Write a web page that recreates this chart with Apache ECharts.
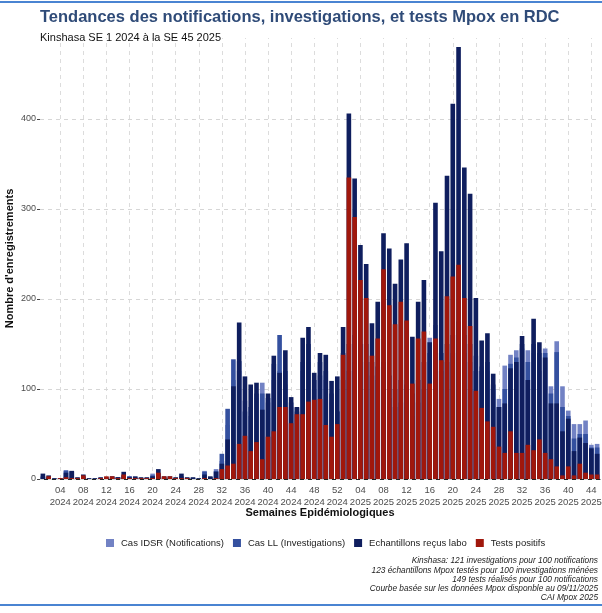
<!DOCTYPE html>
<html>
<head>
<meta charset="utf-8">
<script src="https://cdn.jsdelivr.net/npm/echarts@6/dist/echarts.min.js"></script>
<style>
html,body{margin:0;padding:0;background:#fff;}
#c{width:602px;height:613px;}
</style>
</head>
<body>
<div id="c"></div>
<script>
// Weeks: 2024 W01..W52, 2025 W01..W45
const years = [2024, 2025];
const weeksPerYear = [52, 45];
const categories = [];
years.forEach((y, k) => {
  for (let w = 1; w <= weeksPerYear[k]; w++) categories.push((w < 10 ? '0' + w : '' + w) + '\n' + y);
});

const casIDSR = [
  2,1,0,1,10,9,1,2,0,0,1,1,1,2,3,3,1,1,1,6,5,1,1,1,2,1,1,0,9,2,11,
  20,60,110,120,87,70,90,107,85,110,120,105,80,79,120,130,100,115,110,85,75,
  110,120,130,125,130,115,110,100,90,80,85,80,70,85,100,157,171,120,130,140,150,140,130,
  137,125,120,100,89,126,138,143,145,143,140,120,145,103,153,103,76,61,61,65,38,39
];
const casLL = [
  3,2,0,1,9,8,1,3,0,0,1,1,2,2,4,3,2,1,1,4,6,2,1,1,3,1,1,0,8,2,9,
  28,78,133,131,75,80,95,95,90,128,160,120,85,75,130,150,110,130,120,95,75,
  140,150,160,150,150,130,125,130,115,100,110,105,95,110,130,140,150,140,150,160,175,160,150,
  120,120,130,105,80,100,128,135,150,130,150,140,140,95,141,80,70,45,50,50,35,35
];
const echantillons = [
  6,4,1,1,7,9,2,5,1,1,2,2,3,2,8,2,3,2,2,3,11,3,3,2,6,2,2,1,5,3,8,
  17,44,103,174,114,105,107,77,95,137,118,143,91,80,157,169,118,140,138,109,114,
  169,406,334,260,239,173,197,273,256,217,244,262,158,197,221,152,307,253,337,417,480,346,317,
  201,154,162,117,80,84,123,130,159,110,178,152,135,84,84,53,67,31,46,40,34,28
];
const testsPositifs = [
  0,3,0,1,2,1,1,4,0,0,1,3,3,1,5,1,1,1,1,1,7,3,3,1,1,1,0,0,1,0,1,
  11,15,17,39,48,31,41,22,47,53,80,80,62,72,72,86,88,89,60,47,61,
  138,335,291,221,201,137,156,233,193,172,197,176,106,156,164,106,156,132,203,225,238,201,170,
  98,79,64,58,36,29,53,29,29,38,32,44,29,22,14,4,14,4,17,7,5,5
];
const seriesNames = ['Cas IDSR (Notifications)', 'Cas LL (Investigations)', 'Echantillons reçus labo', 'Tests positifs'];
const seriesColors = ['#7282c4', '#34509f', '#0f1e5e', '#a0170c'];
const yTicks = [0, 100, 200, 300, 400];
const captionLines = [
  'Kinshasa: 121 investigations pour 100 notifications',
  '123 échantillons Mpox testés pour 100 investigations ménées',
  '149 tests réalisés pour 100 notifications',
  'Courbe basée sur les données Mpox disponble au 09/11/2025',
  'CAI Mpox 2025'
];

const labelIdx = (i) => {
  const w = i < 52 ? i + 1 : i - 51;
  return w % 4 === 0;
};
const gridCats = categories.filter((c, i) => labelIdx(i));

const font = 'Liberation Sans, Arial, Helvetica, sans-serif';
const chart = echarts.init(document.getElementById('c'), null, {renderer: 'canvas'});
const dataSets = [casIDSR, casLL, echantillons, testsPositifs];

const barSeries = dataSets.map((d, k) => ({
  name: seriesNames[k],
  type: 'bar',
  data: d,
  barGap: '-100%',
  barCategoryGap: '20%',
  z: 3 + k,
  itemStyle: {color: seriesColors[k]},
  emphasis: {disabled: true}
}));

chart.setOption({
  animation: false,
  backgroundColor: '#fff',
  title: {
    text: 'Tendances des notifications, investigations, et tests Mpox en RDC',
    subtext: 'Kinshasa SE 1 2024 à la SE 45 2025',
    left: 35, top: 4,
    itemGap: 6,
    textStyle: {fontFamily: font, fontSize: 16.5, fontWeight: 'bold', color: '#2f4b78'},
    subtextStyle: {fontFamily: font, fontSize: 11, color: '#111'}
  },
  legend: {
    data: seriesNames,
    top: 533, left: 101,
    icon: 'rect', itemWidth: 8, itemHeight: 8, itemGap: 9,
    textStyle: {fontFamily: font, fontSize: 9.5, color: '#222', padding: [0, 0, 0, 2]}
  },
  grid: {left: 40, right: 2, top: 38, bottom: 134, containLabel: false, outerBoundsMode: 'none'},
  xAxis: {
    type: 'category',
    data: categories,
    name: 'Semaines Epidémiologiques',
    nameLocation: 'middle', nameGap: 28, nameMoveOverlap: false,
    nameTextStyle: {fontFamily: font, fontSize: 11, fontWeight: 'bold', color: '#111'},
    axisLine: {show: true, lineStyle: {color: '#222', width: 1}},
    axisTick: {show: false},
    axisLabel: {
      interval: (i) => labelIdx(i),
      fontFamily: font, fontSize: 9.5, color: '#4d4d4d', lineHeight: 12, margin: 5
    },
    splitLine: {show: false}
  },
  yAxis: {
    type: 'value', min: 0, max: 490, interval: 100,
    name: "Nombre d'enregistrements",
    nameLocation: 'middle', nameGap: 25, nameMoveOverlap: false,
    nameTextStyle: {fontFamily: font, fontSize: 11, fontWeight: 'bold', color: '#111'},
    axisLine: {show: false},
    axisTick: {show: true, length: 3, lineStyle: {color: '#444'}, customValues: yTicks},
    axisLabel: {
      fontFamily: font, fontSize: 9, color: '#4d4d4d', margin: 4,
      customValues: yTicks,
      formatter: (v) => yTicks.indexOf(v) >= 0 ? String(v) : ''
    },
    splitLine: {show: false}
  },
  series: [
    {
      type: 'line', data: [], z: 1, silent: true,
      markLine: {
        silent: true, symbol: 'none', animation: false, z: 1,
        label: {show: false},
        lineStyle: {color: '#dcdcdc', type: [4, 4], width: 1},
        data: gridCats.map(c => ({xAxis: c})).concat(yTicks.map(v => ({yAxis: v, lineStyle: {color: '#d6d6d6'}})))
      }
    },
    ...barSeries
  ],
  graphic: [
    {type: 'rect', shape: {x: 0, y: 1, width: 602, height: 2}, style: {fill: '#4a84d2'}},
    {type: 'rect', shape: {x: 0, y: 604, width: 602, height: 2}, style: {fill: '#4a84d2'}},
    ...captionLines.map((t, i) => ({
      type: 'text', right: 4, top: 557 + i * 9.2,
      style: {text: t, font: 'italic 8.3px ' + font, fill: '#222', textAlign: 'right'}
    }))
  ]
});
</script>
</body>
</html>
